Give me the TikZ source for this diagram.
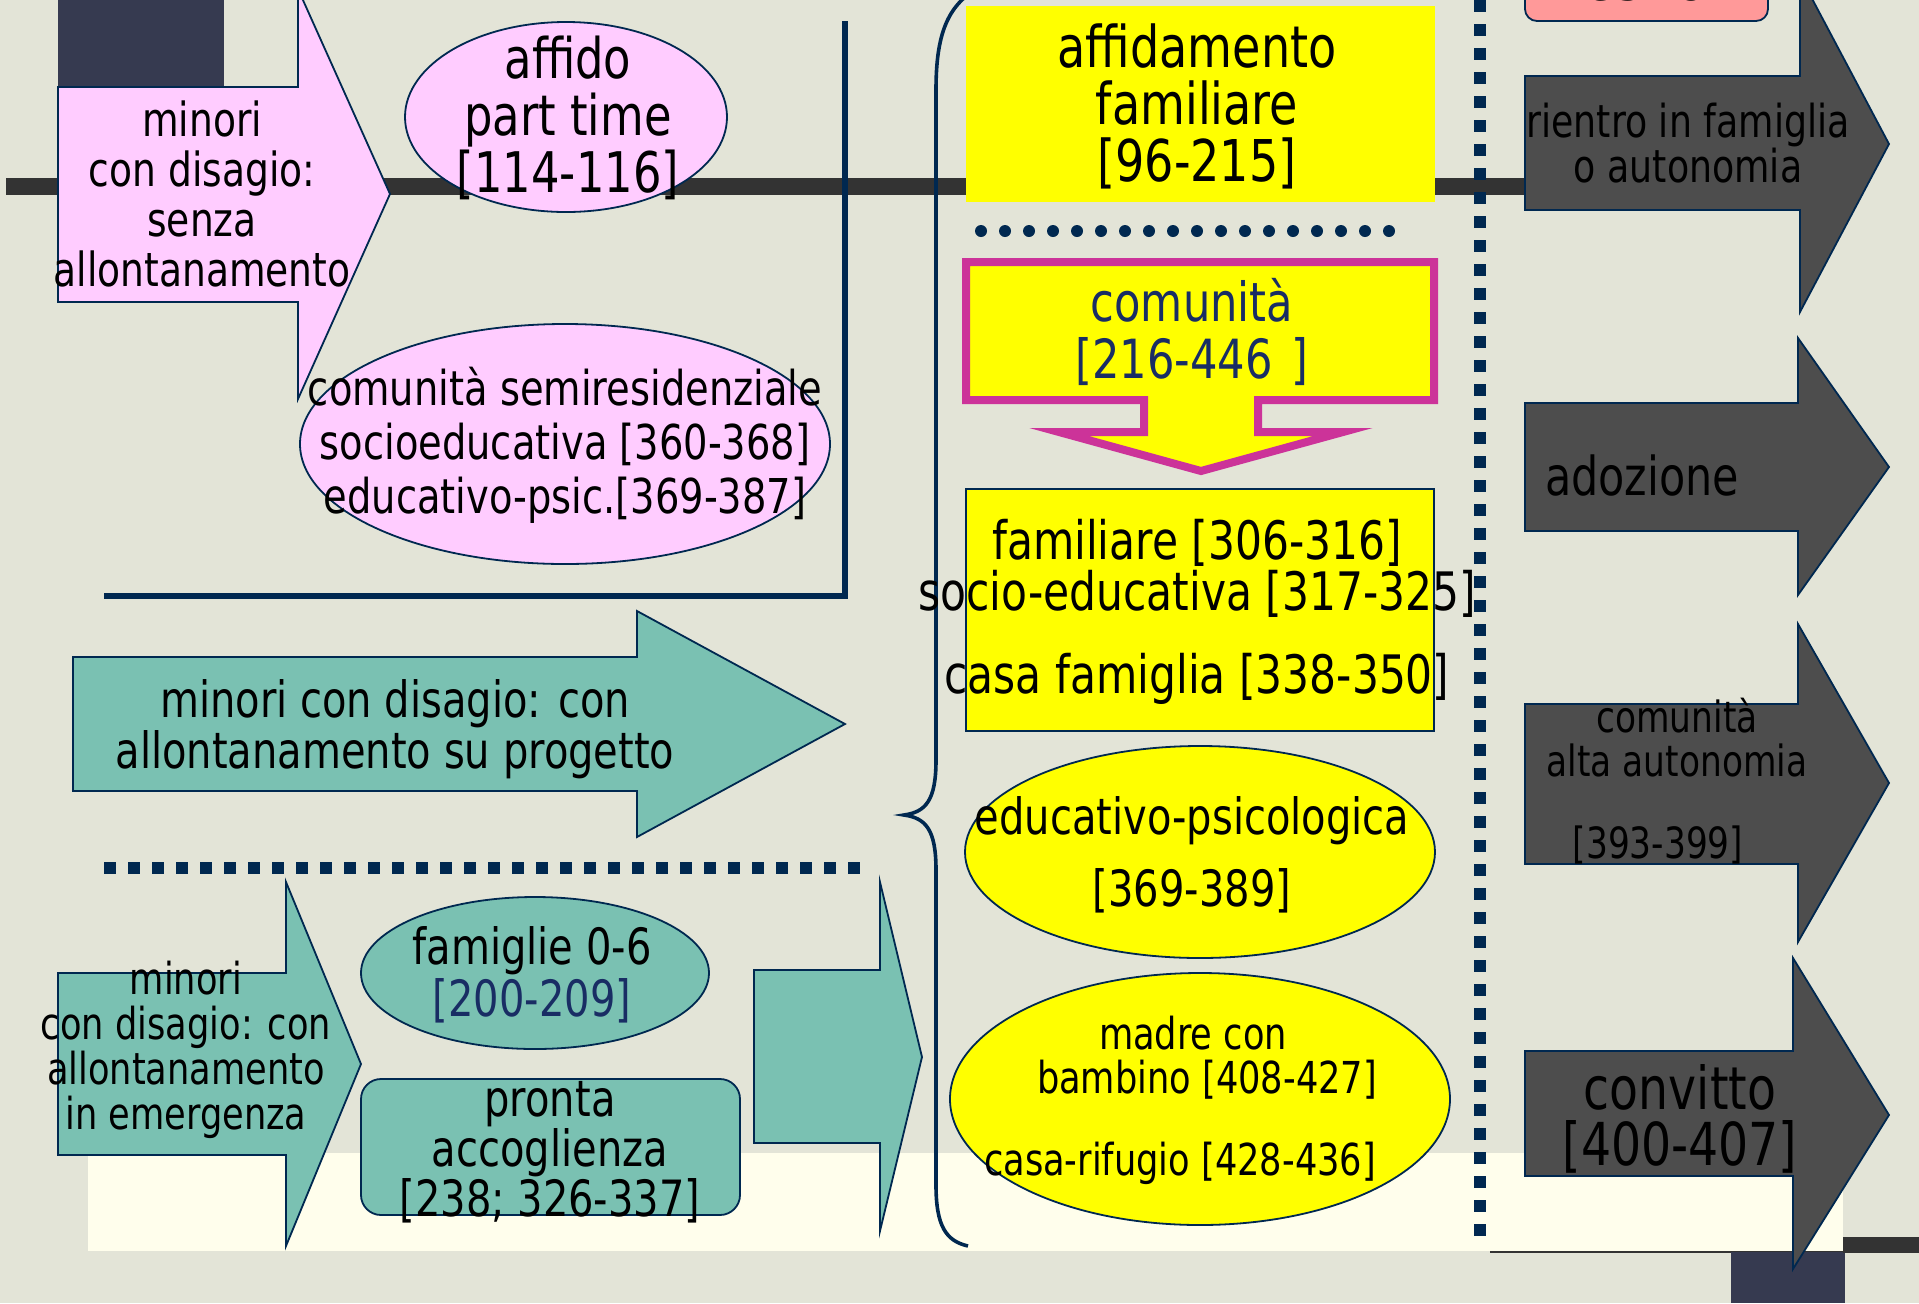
\documentclass[tikz,border=0pt]{standalone}
\usepackage{fontspec}
\setmainfont{DejaVu Sans}[FakeStretch=0.8]
\newcommand\setfs[2]{\fontsize{#1}{#2}\selectfont}

\definecolor{bgc}{RGB}{227,228,215}
\definecolor{creamc}{RGB}{255,254,236}
\definecolor{barc}{RGB}{51,51,51}
\definecolor{texdark}{RGB}{54,58,80}
\definecolor{navy}{RGB}{0,40,80}
\definecolor{pinkc}{RGB}{255,204,255}
\definecolor{tealc}{RGB}{122,193,178}
\definecolor{yellowc}{RGB}{255,255,0}
\definecolor{magentac}{RGB}{204,51,153}
\definecolor{darkc}{RGB}{77,77,77}
\definecolor{salmonc}{RGB}{255,153,153}
\definecolor{bluetext}{RGB}{25,45,100}

\begin{document}
\begin{tikzpicture}[x=0.5pt,y=-0.5pt,
  outline/.style={draw=navy,line width=0.9pt,line join=miter},
  pinkshape/.style={outline,fill=pinkc},
  tealshape/.style={outline,fill=tealc},
  yellowshape/.style={outline,fill=yellowc},
  darkshape/.style={outline,fill=darkc},
  txt/.style={align=center,inner sep=0pt,text=black},
  squaredots/.style={draw=navy,line width=5.6pt,dash pattern=on 6pt off 6pt},
  rounddots/.style={draw=navy,line width=6pt,line cap=round,dash pattern=on 0pt off 12pt},
  navyrule/.style={draw=navy,line width=3pt}]
\useasboundingbox (0,0) rectangle (1919,1303);
\clip (0,0) rectangle (1919,1303);

% backdrop, cream band, dark corner tiles and the thick rules
\fill[bgc] (0,0) rectangle (1919,1303);
\fill[creamc] (88,1153) rectangle (1843,1251);
\draw[barc,line width=1.2pt] (1490,1252) -- (1843,1252);
\fill[texdark] (58,0) rectangle (224,87);
\fill[texdark] (1731,1252) rectangle (1845,1303);
\fill[barc] (6,178) rectangle (1530,195);
\fill[barc] (1843,1237) rectangle (1919,1253);

% ---- left column: minors without removal ----
\draw[pinkshape] (58,87) -- (298,87) -- (298,-11) -- (390,194) -- (298,399) -- (298,302) -- (58,302) -- cycle;
\node[txt,font=\setfs{23.5}{25}] (tMinori) at (202,194) {minori\\con disagio:\\senza\\allontanamento};

\draw[pinkshape] (566,117) ellipse [x radius=161,y radius=95];
\node[txt,font=\setfs{28}{28.5}] (tAffido) at (568,118) {affido\\part time\\{[114-116]}};

\draw[pinkshape] (565,444) ellipse [x radius=265,y radius=120];
\node[txt,font=\setfs{24}{27}] (tSemires) at (565,445) {comunità semiresidenziale\\socioeducativa [360-368]\\educativo-psic.[369-387]};

\draw[navyrule] (845,21) -- (845,596) -- (104,596);

% ---- planned removal ----
\draw[tealshape] (73,657) -- (637,657) -- (637,611) -- (845,724) -- (637,837) -- (637,791) -- (73,791) -- cycle;
\node[txt,font=\setfs{25}{25.5}] (tProgetto) at (395,729) {minori con disagio: con\\allontanamento su progetto};

\draw[squaredots] (104,868) -- (863,868);

% ---- emergency removal ----
\draw[tealshape] (58,973) -- (286,973) -- (286,882) -- (361,1064) -- (286,1246) -- (286,1155) -- (58,1155) -- cycle;
\node[txt,font=\setfs{22}{22.5}] (tEmerg) at (186,1050) {minori\\con disagio: con\\allontanamento\\in emergenza};

\draw[tealshape] (535,973) ellipse [x radius=174,y radius=76];
\node[txt,font=\setfs{25}{26}] (tFamiglie) at (532,975) {famiglie 0-6\\\textcolor{bluetext}{[200-209]}};

\draw[tealshape,rounded corners=10pt] (361,1079) rectangle (740,1215);
\node[txt,font=\setfs{25}{25}] (tPronta) at (550,1152) {pronta\\accoglienza\\{[238; 326-337]}};

\draw[tealshape] (754,970) -- (880,970) -- (880,882) -- (922,1057) -- (880,1231) -- (880,1143) -- (754,1143) -- cycle;

% ---- brace gathering the placements ----
\draw[navy,line width=1.8pt] (975,-10) .. controls (945,8) and (936,40) .. (936,90)
  -- (936,760) .. controls (936,800) and (926,812) .. (904,815)
  .. controls (926,818) and (936,830) .. (936,870)
  -- (936,1185) .. controls (936,1226) and (946,1241) .. (968,1246);

% ---- placements ----
\fill[yellowc] (966,6) rectangle (1435,202);
\node[txt,font=\setfs{28.8}{28.5}] (tAffidamento) at (1197,106) {affidamento\\familiare\\{[96-215]}};

\draw[rounddots] (981,231) -- (1389,231);

\draw[draw=magentac,line width=4pt,fill=yellowc,line join=miter] (966,262) -- (1434,262) -- (1434,400) -- (1258,400) -- (1258,432) -- (1343,432) -- (1201,471) -- (1059,432) -- (1144,432) -- (1144,400) -- (966,400) -- cycle;
\node[txt,text=bluetext,font=\setfs{27}{28.5}] (tComunita) at (1192,332) {comunità\\{[216-446\hspace{0.35em}]}};

\draw[yellowshape,line width=0.7pt] (966,489) rectangle (1434,731);
\node[txt,font=\setfs{26.5}{25.5}] (tTipi) at (1197,612) {familiare [306-316]\\socio-educativa [317-325]\\[16pt]casa famiglia [338-350]};

\draw[yellowshape] (1200,852) ellipse [x radius=235,y radius=106];
\node[txt,font=\setfs{25}{36}] (tEducativo) at (1192,855) {educativo-psicologica\\{[369-389]}};

\draw[yellowshape] (1200,1099) ellipse [x radius=250,y radius=126];
\node[txt,font=\setfs{22}{22}] (tMadre) at (1193,1100) {madre con\\\hspace*{14pt}bambino [408-427]\\[19pt]casa-rifugio [428-436]\hspace*{13pt}};

\draw[squaredots] (1480,0) -- (1480,1242);

% ---- outcomes ----
\draw[outline,fill=salmonc,rounded corners=6pt] (1525,-30) rectangle (1768,21);
\node[inner sep=0pt,anchor=base,font=\bfseries\setfs{27}{27}] (tEsito) at (1646,0.5) {esito};

\draw[darkshape] (1525,76) -- (1800,76) -- (1800,-24) -- (1889,144) -- (1800,312) -- (1800,210) -- (1525,210) -- cycle;
\node[txt,font=\setfs{22.7}{22.5}] (tRientro) at (1688,143) {rientro in famiglia\\o autonomia};

\draw[darkshape] (1525,403) -- (1798,403) -- (1798,338) -- (1889,467) -- (1798,595) -- (1798,531) -- (1525,531) -- cycle;
\node[txt,font=\setfs{26.8}{28}] (tAdozione) at (1642,476) {adozione};

\draw[darkshape] (1525,704) -- (1798,704) -- (1798,624) -- (1889,783) -- (1798,942) -- (1798,864) -- (1525,864) -- cycle;
\node[txt,font=\setfs{21.5}{22}] (tAlta) at (1677,781) {comunità\\alta autonomia\\[19pt]{[393-399]}\hspace*{19pt}};

\draw[darkshape] (1525,1051) -- (1793,1051) -- (1793,958) -- (1889,1115) -- (1793,1269) -- (1793,1176) -- (1525,1176) -- cycle;
\node[txt,font=\setfs{29.6}{28}] (tConvitto) at (1680,1119) {convitto\\{[400-407]}};
\end{tikzpicture}
\end{document}
